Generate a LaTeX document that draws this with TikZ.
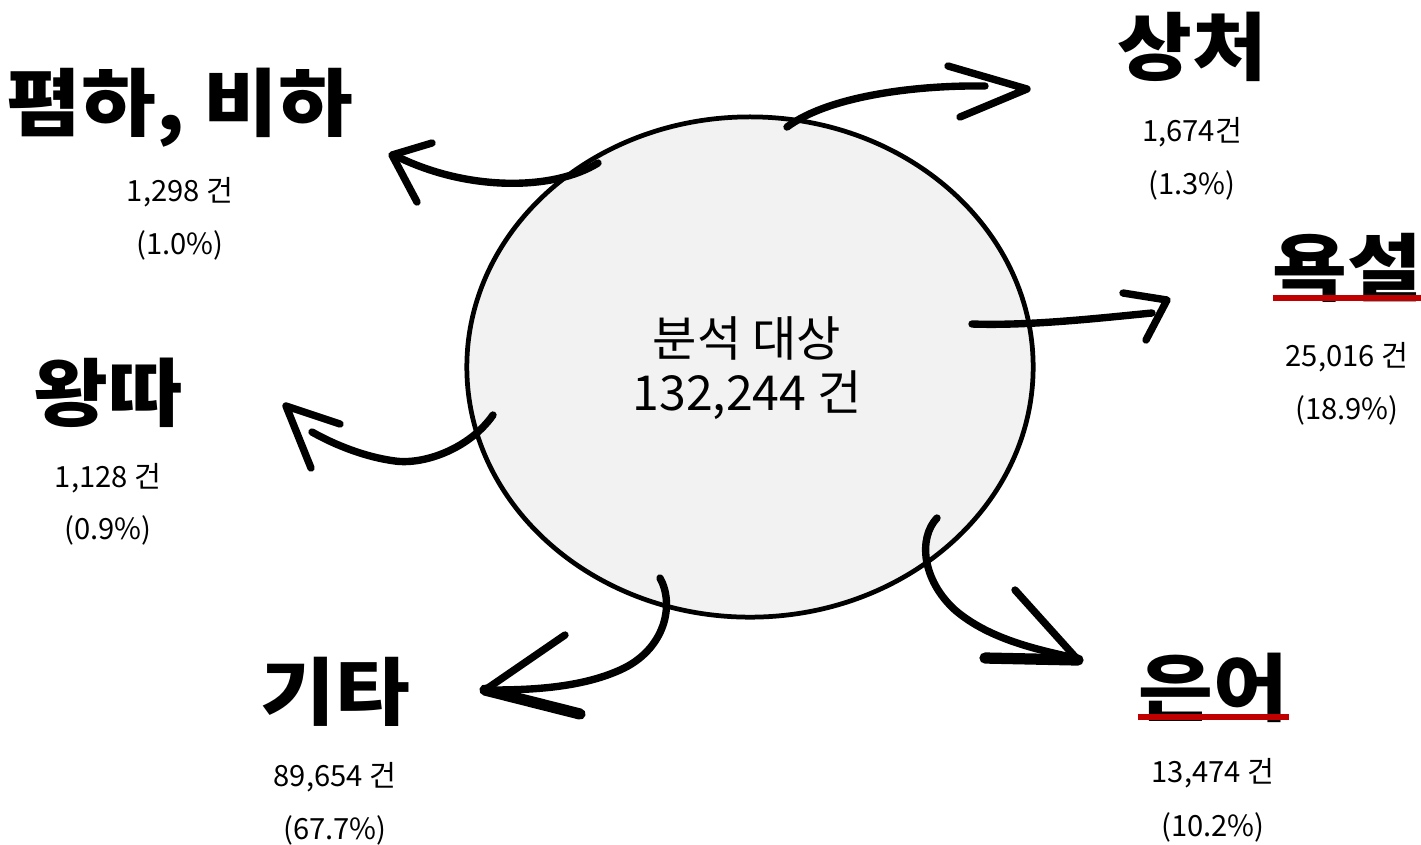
\documentclass[tikz,border=0pt]{standalone}
\usepackage{fontspec}
\usetikzlibrary{shapes.geometric}
\setmainfont{Noto Sans CJK KR}
\newfontfamily\kr{Noto Sans CJK KR}
\newfontfamily\krwide[FakeStretch=1.1]{Noto Sans CJK KR}
\definecolor{circfill}{RGB}{242,242,242}
\definecolor{ulred}{RGB}{192,0,0}
\tikzset{
  bigLabel/.style={font=\krwide\bfseries\fontsize{21}{24}\selectfont, inner sep=0pt},
  smallLabel/.style={font=\kr\fontsize{8.3}{10}\selectfont, inner sep=0pt},
  centerText/.style={font=\kr\fontsize{13.7}{15.5}\selectfont, align=center, inner sep=0pt},
  stroke/.style={line width=2.1pt, line cap=round, line join=round, black},
  heavy/.style={line width=3.2pt, line cap=round, line join=round, black},
  ul/.style={line width=1.7pt, ulred}
}
\begin{document}
\begin{tikzpicture}[x=0.01cm, y=-0.01cm]
\useasboundingbox (0,0) rectangle (1421,844);
% main circle
\node[draw=black, line width=1.35pt, fill=circfill, ellipse, minimum width=5.66cm, minimum height=5cm, inner sep=0pt] (circ) at (750,367) {};
\node[centerText] (ctr) at (747,368) {분석 대상\\132,244 건};

% labels
\node[bigLabel] (pyeom) at (180,108) {폄하, 비하};
\node[smallLabel] (pyeomA) at (180,192) {1,298 건};
\node[smallLabel] (pyeomB) at (180,245) {(1.0\%)};

\node[bigLabel] (sang) at (1192,47) {상처};
\node[smallLabel] (sangA) at (1192,132) {1,674건};
\node[smallLabel] (sangB) at (1192,185) {(1.3\%)};

\node[bigLabel] (yok) at (1347,268) {욕설};
\node[smallLabel] (yokA) at (1347,357) {25,016 건};
\node[smallLabel] (yokB) at (1347,410) {(18.9\%)};

\node[bigLabel] (wang) at (108,393) {왕따};
\node[smallLabel] (wangA) at (108,478) {1,128 건};
\node[smallLabel] (wangB) at (108,530) {(0.9\%)};

\node[bigLabel] (gita) at (335,692) {기타};
\node[smallLabel] (gitaA) at (335,777) {89,654 건};
\node[smallLabel] (gitaB) at (335,830) {(67.7\%)};

\node[bigLabel] (eun) at (1213,688) {은어};
\node[smallLabel] (eunA) at (1213,773) {13,474 건};
\node[smallLabel] (eunB) at (1213,827) {(10.2\%)};

% red underlines
\coordinate (yokUL) at (1273,298);
\coordinate (yokUR) at (1421,298);
\draw[ul] (yokUL) -- (yokUR);
\coordinate (eunUL) at (1138,717);
\coordinate (eunUR) at (1289,717);
\draw[ul] (eunUL) -- (eunUR);

% arrow 1: to pyeom
\coordinate (a1s) at (598,163);
\coordinate (a1e) at (398,157);
\coordinate (a1t) at (392,155);
\draw[stroke] (a1s) .. controls (555,190) and (470,192) .. (a1e);
\draw[stroke] (432,143) -- (a1t) -- (417,202);

% arrow 2: to sang
\coordinate (a2s) at (787,127);
\coordinate (a2e) at (985,86);
\coordinate (a2t) at (1027,89);
\draw[stroke] (a2s) .. controls (830,95) and (920,85) .. (a2e);
\draw[stroke] (948,66) -- (a2t) -- (960,117);

% arrow 3: to yok
\coordinate (a3s) at (972,324);
\coordinate (a3e) at (1152,313);
\coordinate (a3t) at (1167,300);
\draw[stroke] (a3s) .. controls (1030,326) and (1100,318) .. (a3e);
\draw[stroke] (1123,293) -- (a3t) -- (1146,340);

% arrow 4: to eun
\coordinate (a4s) at (937,518);
\coordinate (a4m) at (955,610);
\coordinate (a4e) at (1075,658);
\coordinate (a4t) at (1078,660);
\draw[stroke] (a4s) .. controls (918,538) and (922,580) .. (a4m) .. controls (990,640) and (1040,650) .. (a4e);
\draw[stroke] (1015,590) -- (a4t);
\draw[heavy] (985,658) -- (a4t);

% arrow 5: to gita
\coordinate (a5s) at (660,578);
\coordinate (a5m) at (620,670);
\coordinate (a5e) at (490,690);
\coordinate (a5t) at (485,690);
\draw[stroke] (a5s) .. controls (675,605) and (665,650) .. (a5m) .. controls (580,688) and (530,690) .. (a5e);
\draw[stroke] (565,635) -- (a5t);
\draw[heavy] (a5t) -- (580,714);

% arrow 6: to wang
\coordinate (a6s) at (493,415);
\coordinate (a6m) at (395,461);
\coordinate (a6e) at (312,432);
\coordinate (a6t) at (286,406);
\draw[stroke] (a6s) .. controls (470,448) and (425,465) .. (a6m) .. controls (365,457) and (335,445) .. (a6e);
\draw[stroke] (340,424) -- (a6t) -- (311,468);
\end{tikzpicture}
\end{document}
